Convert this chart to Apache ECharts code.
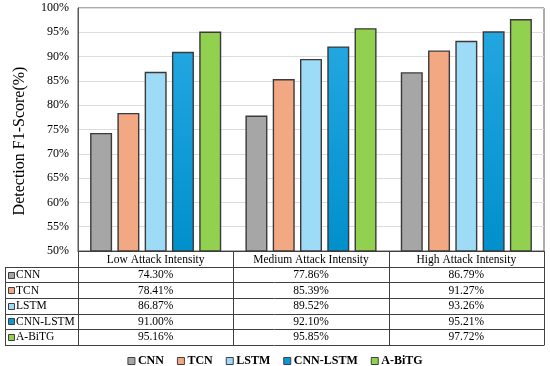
<!DOCTYPE html>
<html>
<head>
<meta charset="utf-8">
<script src="https://cdn.jsdelivr.net/npm/echarts@6/dist/echarts.min.js"></script>
<style>
html,body{margin:0;padding:0;background:#fff;}
#c{width:550px;height:366px;}
</style>
</head>
<body>
<div id="c"></div>
<script>
var categories = ['Low Attack Intensity', 'Medium Attack Intensity', 'High Attack Intensity'];
var seriesNames = ['CNN', 'TCN', 'LSTM', 'CNN-LSTM', 'A-BiTG'];
var cnn = [74.30, 77.86, 86.79];
var tcn = [78.41, 85.39, 91.27];
var lstm = [86.87, 89.52, 93.26];
var cnnLstm = [91.00, 92.10, 95.21];
var aBiTG = [95.16, 95.85, 97.72];
var yTicks = [50, 55, 60, 65, 70, 75, 80, 85, 90, 95, 100];
var allValues = [cnn, tcn, lstm, cnnLstm, aBiTG];

var colors = [
  '#a6a6a6',
  '#f2a983',
  '#9ddbf6',
  new echarts.graphic.LinearGradient(0, 0, 0, 1, [{offset: 0, color: '#22a6e0'}, {offset: 1, color: '#0090cc'}]),
  '#92d050'
];
var flatColors = ['#a6a6a6', '#f2a983', '#9ddbf6', '#0a98d6', '#92d050'];
var FONT = '"Liberation Serif", "Times New Roman", serif';
var LINE = '#404040';

var chart = echarts.init(document.getElementById('c'), null, {renderer: 'canvas'});

var series = seriesNames.map(function (n, i) {
  return {
    name: n,
    type: 'bar',
    data: allValues[i],
    barWidth: 22,
    barGap: '24%',
    itemStyle: {color: colors[i], borderColor: '#3a3a3a', borderWidth: 1.4},
    emphasis: {disabled: true}
  };
});

chart.setOption({
  animation: false,
  textStyle: {fontFamily: FONT},
  grid: {left: 78, right: 6, top: 8, bottom: 115, show: true, borderColor: '#595959', borderWidth: 1},
  legend: {
    top: 350,
    left: 'center',
    icon: 'rect',
    itemWidth: 7,
    itemHeight: 7,
    itemGap: 13,
    data: seriesNames.map(function (n, i) {
      return {name: n, itemStyle: {color: flatColors[i], borderColor: '#404040', borderWidth: 1}};
    }),
    textStyle: {fontFamily: FONT, fontSize: 12, fontWeight: 'bold', color: '#000', padding: [0, 0, 0, -2]}
  },
  xAxis: {
    type: 'category',
    data: categories,
    axisTick: {show: false},
    axisLine: {lineStyle: {color: LINE, width: 1}},
    axisLabel: {margin: 3, fontSize: 11.5, color: '#000', fontFamily: FONT},
    splitLine: {show: false}
  },
  yAxis: {
    type: 'value',
    min: yTicks[0],
    max: yTicks[yTicks.length - 1],
    interval: 5,
    axisLine: {show: true, lineStyle: {color: '#595959'}},
    axisTick: {show: false},
    axisLabel: {formatter: '{value}%', fontSize: 12, color: '#000', margin: 9, fontFamily: FONT},
    splitLine: {lineStyle: {color: '#dcdcdc', width: 1}}
  },
  series: series
});

function buildTable() {
  var c0 = chart.convertToPixel({xAxisIndex: 0}, 0);
  var c1 = chart.convertToPixel({xAxisIndex: 0}, 1);
  var band = c1 - c0;
  var yBase = chart.convertToPixel({yAxisIndex: 0}, yTicks[0]);
  var gLeft = c0 - band / 2;
  var gRight = gLeft + band * categories.length;
  var tableLeft = 5;
  var headerH = 15.7;
  var rowH = 15.6;
  var els = [];
  var rowTop = yBase + headerH;
  var bottom = rowTop + rowH * seriesNames.length;
  var ls = {stroke: LINE, lineWidth: 1};
  for (var r = 0; r <= seriesNames.length; r++) {
    var y = Math.round(rowTop + r * rowH) + 0.5;
    els.push({type: 'line', shape: {x1: tableLeft, y1: y, x2: gRight, y2: y}, style: ls, silent: true});
  }
  for (var k = 0; k <= categories.length; k++) {
    var x = Math.round(gLeft + k * band) + 0.5;
    els.push({type: 'line', shape: {x1: x, y1: yBase, x2: x, y2: Math.round(bottom) + 0.5}, style: ls, silent: true});
  }
  els.push({type: 'line', shape: {x1: tableLeft + 0.5, y1: Math.round(rowTop) + 0.5, x2: tableLeft + 0.5, y2: Math.round(bottom) + 0.5}, style: ls, silent: true});
  for (var i = 0; i < seriesNames.length; i++) {
    var cy = rowTop + (i + 0.5) * rowH + 0.5;
    els.push({type: 'rect', shape: {x: 8.5, y: Math.round(cy - 3.5) + 0.5, width: 6, height: 6},
      style: {fill: flatColors[i], stroke: LINE, lineWidth: 1}, silent: true});
    els.push({type: 'text', style: {x: 16, y: cy, text: seriesNames[i], font: '11.5px ' + FONT, fill: '#000', textVerticalAlign: 'middle', textAlign: 'left'}, silent: true});
    for (var j = 0; j < categories.length; j++) {
      var cx = chart.convertToPixel({xAxisIndex: 0}, j);
      els.push({type: 'text', style: {x: cx, y: cy, text: allValues[i][j].toFixed(2) + '%', font: '11.5px ' + FONT, fill: '#000', textVerticalAlign: 'middle', textAlign: 'center'}, silent: true});
    }
  }
  els.push({type: 'text', rotation: Math.PI / 2, x: 20, y: 141,
    style: {x: 0, y: 0, text: 'Detection F1-Score(%)', font: '16px ' + FONT, fill: '#000', textAlign: 'center', textVerticalAlign: 'middle'}, silent: true});
  chart.setOption({graphic: {elements: els}});
}
buildTable();
</script>
</body>
</html>
